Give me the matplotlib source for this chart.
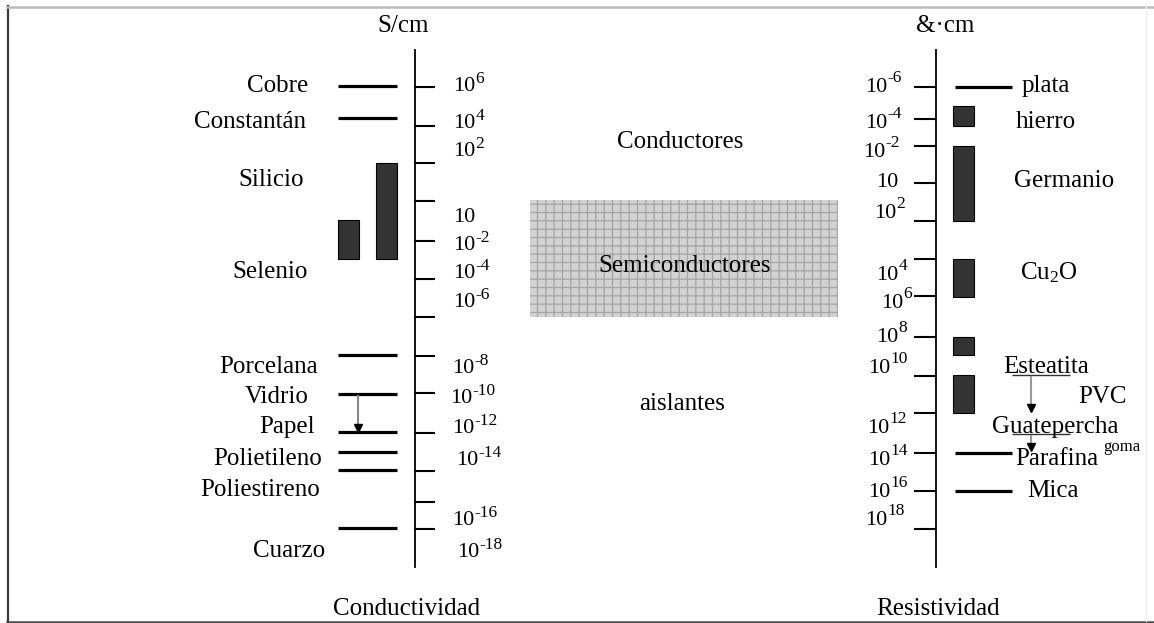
import matplotlib.pyplot as plt
from matplotlib.patches import Rectangle

plt.rcParams['font.family'] = ['Liberation Serif', 'DejaVu Serif']
plt.rcParams['mathtext.fontset'] = 'custom'
plt.rcParams['mathtext.rm'] = 'Liberation Serif'
plt.rcParams['mathtext.it'] = 'Liberation Serif:italic'
plt.rcParams['hatch.linewidth'] = 0.9

# conductividad scale (S/cm): positions are rows of the diagram
cond_ticks = [87, 126, 163, 201, 241, 279, 317, 356, 393, 433, 471, 502, 529]
cond_exps = ['6', '4', '2', None, '-2', '-4', '-6', '-8', '-10', '-12', '-14', '-16', '-18']
cond_lab_base = [91, 128, 156, 222, 250, 278, 307, 373, 403, 433, 465, 525, 557]
cond_lab_x = [453, 453, 453, 453, 453, 453, 453, 452, 450, 452, 456, 452, 457]

cond_names = ['Cobre', 'Constantán', 'Silicio', 'Selenio', 'Porcelana', 'Vidrio',
              'Papel', 'Polietileno', 'Poliestireno', 'Cuarzo']
cond_name_base = [92, 128, 186, 278, 373, 403, 433, 465, 496, 557]
cond_name_x = [308, 306, 304, 308, 318, 309, 315, 322, 320, 325]

cond_lines = [86, 118, 355, 394, 432, 452, 470, 528]
cond_bars = [(220, 259), (163, 259)]          # Selenio, Silicio

# resistividad scale
res_ticks = [87, 119, 146, 183, 221, 259, 296, 337, 376, 413, 453, 491, 529]
res_exps = ['-6', '-4', '-2', None, '2', '4', '6', '8', '10', '12', '14', '16', '18']
res_lab_base = [92, 128, 157, 187, 218, 280, 308, 342, 373, 433, 465, 497, 525]
res_lab_x = [902, 902, 900, 898, 905, 907, 912, 907, 908, 907, 908, 908, 905]

res_names = ['plata', 'hierro', 'Germanio', r'$\mathregular{Cu_2O}$', 'Esteatita', 'PVC',
             'Guatepercha', 'Parafina', 'Mica']
res_name_base = [92, 128, 187, 279, 373, 403, 433, 465, 497]
res_name_x = [1022, 1016, 1014, 1020, 1003, 1078, 992, 1015, 1027]

res_lines = [87, 453, 491]                    # plata, parafina, mica
res_bars = [(106, 126), (146, 221), (259, 297), (337, 355), (375, 413)]

fig = plt.figure(figsize=(11.54, 6.23), dpi=100)
ax = fig.add_axes([0, 0, 1, 1])
ax.set_xlim(0, 1154)
ax.set_ylim(623, 0)
ax.axis('off')

# frame
ax.plot([7.5, 7.5], [6, 621], color='#3a3a3a', lw=1.6)
ax.plot([7, 1154], [6.5, 6.5], color='#bbbbbb', lw=1.8)
ax.plot([7, 1154], [621.5, 621.5], color='#4a4a4a', lw=1.8)
ax.plot([1146, 1146], [6, 621], color='#eeeeee', lw=1)

NUM = 16
EXP = 12.5
RAISE = 6.5

def power_left(x, y, e):
    base = ax.text(x, y, '10', fontsize=NUM, ha='left', va='baseline')
    if e is not None:
        ax.annotate(e, xy=(1, 0), xycoords=base, xytext=(0, RAISE),
                    textcoords='offset points', fontsize=EXP, ha='left', va='bottom')

def power_right(x, y, e):
    if e is None:
        ax.text(x, y, '10', fontsize=NUM, ha='right', va='baseline')
        return
    # place the exponent first, then hang "10" off its left edge
    sup = ax.text(x, y, e, fontsize=EXP, ha='right', va='baseline', alpha=0)
    fig.canvas.draw()
    bb = sup.get_window_extent().transformed(ax.transData.inverted())
    sup.remove()
    ax.text(x, y, e, fontsize=EXP, ha='right', va='baseline',
            transform=ax.transData + plt.matplotlib.transforms.ScaledTranslation(
                0, RAISE / 72 + 0.01, fig.dpi_scale_trans))
    ax.text(min(bb.x0, bb.x1), y, '10', fontsize=NUM, ha='right', va='baseline')

# left axis
ax.plot([415, 415], [50, 567], color='black', lw=1.3)
ax.hlines(cond_ticks, 415, 435, color='black', lw=1.5)
for e, yb, xl in zip(cond_exps, cond_lab_base, cond_lab_x):
    power_left(xl, yb, e)
for name, yb, xr in zip(cond_names, cond_name_base, cond_name_x):
    ax.text(xr, yb, name, fontsize=18, ha='right', va='baseline')
ax.hlines(cond_lines, 338, 397, color='black', lw=2.3)
for (top, bot), (x0, x1) in zip(cond_bars, [(338, 359), (376, 397)]):
    ax.add_patch(Rectangle((x0, top), x1 - x0, bot - top, facecolor='#333333',
                           edgecolor='black', lw=0.8))
ax.plot([358, 358], [396, 428], color='#888888', lw=1.5)
ax.plot(358, 428, marker='v', color='black', ms=6)

ax.text(403, 32, 'S/cm', fontsize=18, ha='center', va='baseline')
ax.text(407, 615, 'Conductividad', fontsize=18, ha='center', va='baseline')

# right axis
ax.plot([936, 936], [50, 567], color='black', lw=1.3)
ax.hlines(res_ticks, 914, 936, color='black', lw=1.5)
for e, yb, xr in zip(res_exps, res_lab_base, res_lab_x):
    power_right(xr, yb, e)
for name, yb, xl in zip(res_names, res_name_base, res_name_x):
    ax.text(xl, yb, name, fontsize=18, ha='left', va='baseline')
ax.text(1103, 451, 'goma', fontsize=12, ha='left', va='baseline')
ax.hlines(res_lines, 955, 1012, color='black', lw=2.3)
for top, bot in res_bars:
    ax.add_patch(Rectangle((953, top), 21, bot - top, facecolor='#333333',
                           edgecolor='black', lw=0.8))
ax.hlines([375, 434], 1012, 1070, color='#333333', lw=1)
ax.plot([1031, 1031], [377, 407], color='#999999', lw=1.5)
ax.plot(1031, 408, marker='v', color='black', ms=6)
ax.plot([1031, 1031], [436, 446], color='#999999', lw=1.5)
ax.plot(1031, 447, marker='v', color='black', ms=6)

ax.text(945, 32, '&·cm', fontsize=18, ha='center', va='baseline')
ax.text(938, 615, 'Resistividad', fontsize=18, ha='center', va='baseline')

# middle
ax.add_patch(Rectangle((530, 200), 308, 117, facecolor='#d2d2d2', edgecolor='#a5a5a5',
                       hatch='++', lw=0))
ax.text(680, 148, 'Conductores', fontsize=18, ha='center', va='baseline')
ax.text(685, 272, 'Semiconductores', fontsize=18, ha='center', va='baseline')
ax.text(682, 410, 'aislantes', fontsize=18, ha='center', va='baseline')

fig.savefig('out.png', dpi=100)
plt.close(fig)
